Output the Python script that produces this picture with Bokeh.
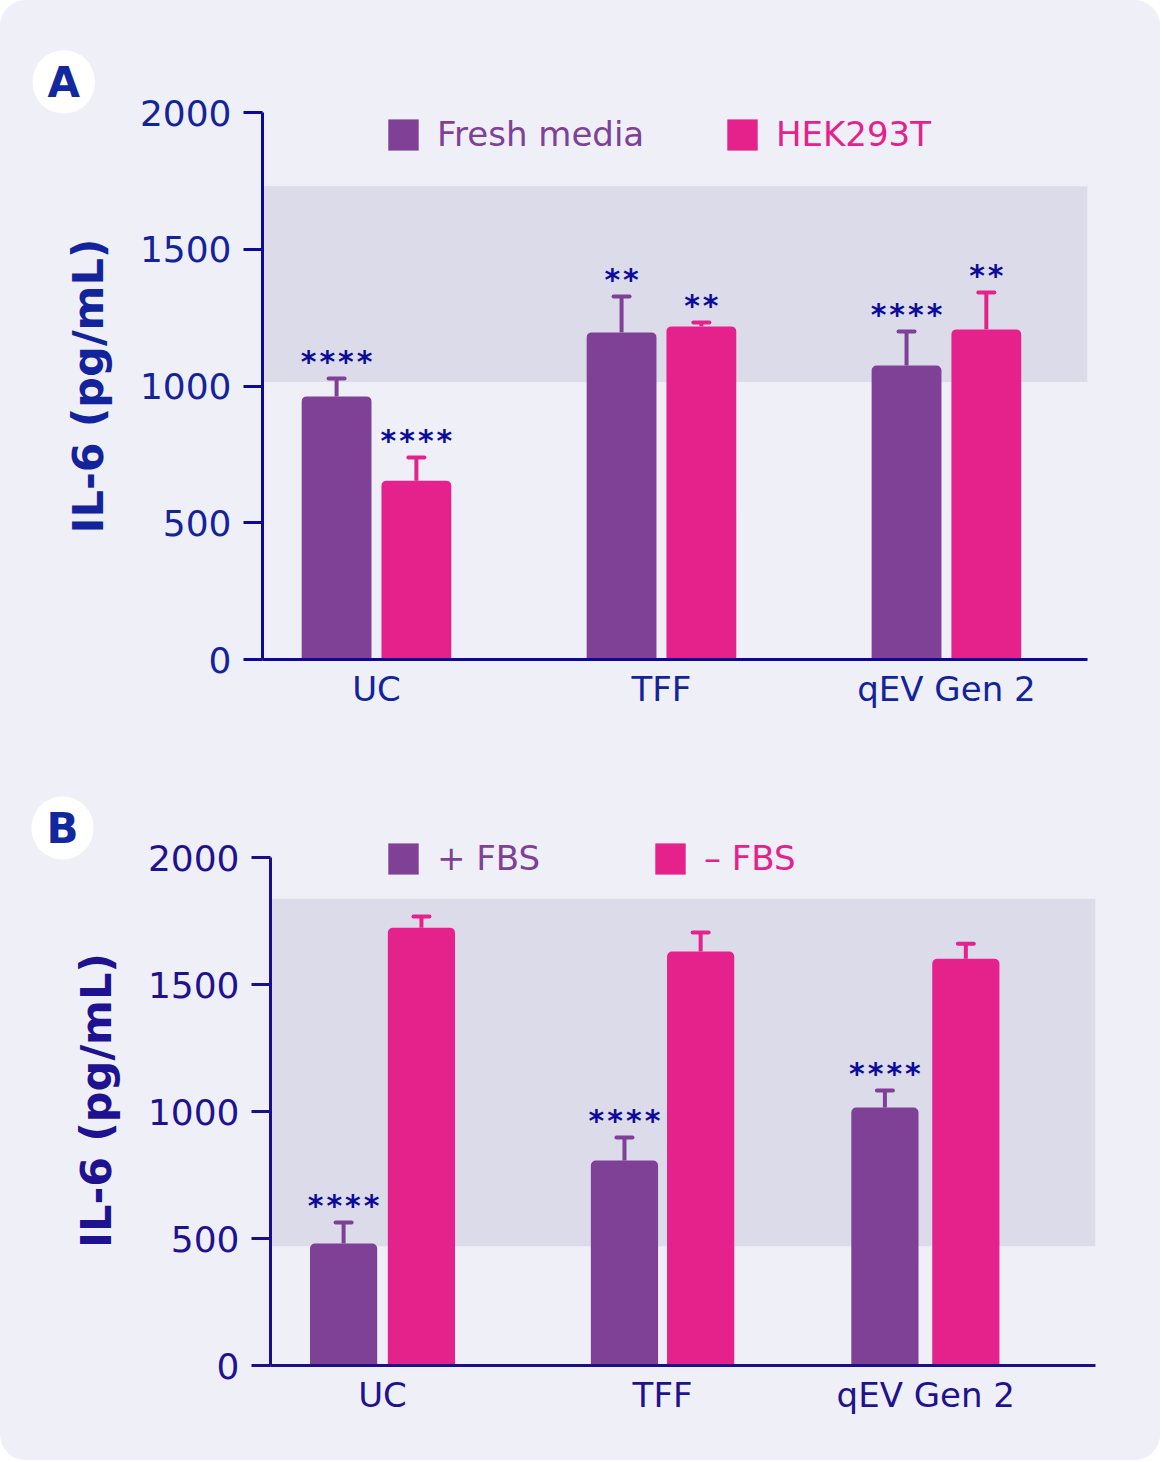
from bokeh.plotting import figure
from bokeh.models import (Range1d, BoxAnnotation, FixedTicker, Legend, LegendItem,
                          Title, Whisker, TeeHead, ColumnDataSource)
from bokeh.layouts import column
from bokeh.embed import file_html
from bokeh.resources import INLINE
from bokeh.core.properties import value

# ---------------- data ----------------
categories = ["UC", "TFF", "qEV Gen 2"]
yticks = [0, 500, 1000, 1500, 2000]

# Panel A
a_series = ["Fresh media", "HEK293T"]
a_fresh = [962, 1196, 1075]
a_fresh_err = [1027, 1327, 1199]
a_hek = [654, 1218, 1207]
a_hek_err = [739, 1232, 1342]
a_fresh_sig = ["****", "**", "****"]
a_hek_sig = ["****", "**", "**"]
a_band = [1015, 1730]

# Panel B
b_series = ["+ FBS", "\u2013 FBS"]
b_plus = [480, 807, 1016]
b_plus_err = [563, 898, 1083]
b_minus = [1724, 1630, 1602]
b_minus_err = [1768, 1705, 1661]
b_plus_sig = ["****", "****", "****"]
b_minus_sig = ["", "", ""]
b_band = [470, 1838]

# ---------------- style ----------------
PURPLE = "#7E4196"
PINK = "#E5228B"
BG = "#EFEFF7"
BAND = "#DCDBEA"
STAR = "#0B0B9C"
FONT = "DejaVu Sans"


def spaced(s):
    return "\u200a".join(s)


def panel(letter, height, border, yend, positions, offsets, bw, xr, s1, s2, sig1, sig2,
          names, band, axis_col, text_col, leg_loc):
    p = figure(width=1160, height=height, output_backend="svg", toolbar_location=None,
               x_range=Range1d(*xr), y_range=Range1d(0, yend),
               min_border_left=border[0], min_border_right=border[1],
               min_border_top=border[2], min_border_bottom=border[3])
    p.frame_align = False
    p.background_fill_color = BG
    p.border_fill_color = BG
    p.outline_line_color = None
    p.grid.visible = False

    p.add_layout(BoxAnnotation(bottom=band[0], top=band[1], fill_color=BAND, fill_alpha=1,
                               line_color=None, level="underlay"))

    rends = []
    for (vals, errs, sig, off, col) in [(s1[0], s1[1], sig1, offsets[0], PURPLE),
                                        (s2[0], s2[1], sig2, offsets[1], PINK)]:
        xs = [c + o for c, o in zip(positions, off)]
        src = ColumnDataSource(dict(x=xs, top=vals, upper=errs,
                                    sig=[spaced(s) for s in sig]))
        r = p.vbar(x="x", top="top", bottom=0, width=bw, source=src, fill_color=col,
                   line_color=None, border_radius=(5, 5, 0, 0))
        rends.append(r)
        p.add_layout(Whisker(base="x", lower="top", upper="upper", source=src,
                             dimension="height", line_color=col, line_width=4,
                             lower_head=None,
                             upper_head=TeeHead(size=16, line_color=col, line_width=4,
                                                line_cap="round")))
        p.text(x="x", y="upper", text="sig", source=src, text_align="center",
               text_baseline="alphabetic", text_font=value(FONT), text_font_style="bold",
               text_font_size="30px", text_color=STAR, y_offset=-17)

    for r, nm, col, loc in zip(rends, names, [PURPLE, PINK], leg_loc):
        lg = Legend(items=[LegendItem(label=nm, renderers=[r])], location=loc,
                    orientation="horizontal", padding=0, margin=0,
                    border_line_alpha=0, background_fill_alpha=0,
                    glyph_width=38, glyph_height=39, label_standoff=15,
                    label_text_font=FONT, label_text_font_size="34px",
                    label_text_color=col, label_height=39)
        p.add_layout(lg)

    # axes
    p.xaxis.ticker = FixedTicker(ticks=positions)
    p.xaxis.major_label_overrides = {pos: c for pos, c in zip(positions, categories)}
    p.xaxis.major_tick_line_color = None
    p.xaxis.minor_tick_line_color = None
    p.xaxis.axis_line_width = 3
    p.xaxis.axis_line_color = axis_col
    p.xaxis.major_label_text_font = FONT
    p.xaxis.major_label_text_font_size = "34px"
    p.xaxis.major_label_text_color = text_col
    p.xaxis.major_label_standoff = 3

    p.yaxis.ticker = FixedTicker(ticks=yticks)
    p.yaxis.bounds = (0, 2000)
    p.yaxis.minor_tick_line_color = None
    p.yaxis.major_tick_out = 19
    p.yaxis.major_tick_in = 0
    p.yaxis.major_tick_line_width = 3
    p.yaxis.major_tick_line_color = axis_col
    p.yaxis.axis_line_width = 3
    p.yaxis.axis_line_color = axis_col
    p.yaxis.major_label_text_font = FONT
    p.yaxis.major_label_text_font_size = "36px"
    p.yaxis.major_label_text_color = text_col
    p.yaxis.major_label_standoff = 12
    p.yaxis.axis_label = "IL-6 (pg/mL)"
    p.yaxis.axis_label_text_font = FONT
    p.yaxis.axis_label_text_font_size = "43px"
    p.yaxis.axis_label_text_font_style = "bold"
    p.yaxis.axis_label_text_color = text_col
    p.yaxis.axis_label_standoff = 24

    p.add_layout(Title(text=letter[0], align="left", vertical_align="bottom",
                       offset=letter[1], standoff=letter[2],
                       text_font=FONT, text_font_style="bold", text_font_size="42px",
                       text_color="#1128A0", background_fill_color="white",
                       padding=dict(x=15, y=7), border_radius=31), "above")
    return p


pa = panel(("A", -230, -2), 745, (262, 73, 112, 86), 2000,
           [0, 1, 2], ([-0.14] * 3, [0.14] * 3), 0.245, (-0.4, 2.495),
           (a_fresh, a_fresh_err), (a_hek, a_hek_err), a_fresh_sig, a_hek_sig,
           a_series, a_band, "#0E0896", "#13239C", [(122, 505), (461, 505)])

pb = panel(("B", -239, -48), 715, (270, 65, 90, 95), 2087,
           [0, 1, 1.94], ([-0.139, -0.136, -0.146], [0.139, 0.136, 0.143]), 0.24,
           (-0.4, 2.546),
           (b_plus, b_plus_err), (b_minus, b_minus_err), b_plus_sig, b_minus_sig,
           b_series, b_band, "#1A0E8E", "#1F1291", [(114, 487), (381, 487)])

layout = column(pa, pb, spacing=0,
                styles={"background-color": BG, "border-radius": "26px",
                        "overflow": "hidden"})
open("out.html", "w").write(file_html(layout, INLINE))
